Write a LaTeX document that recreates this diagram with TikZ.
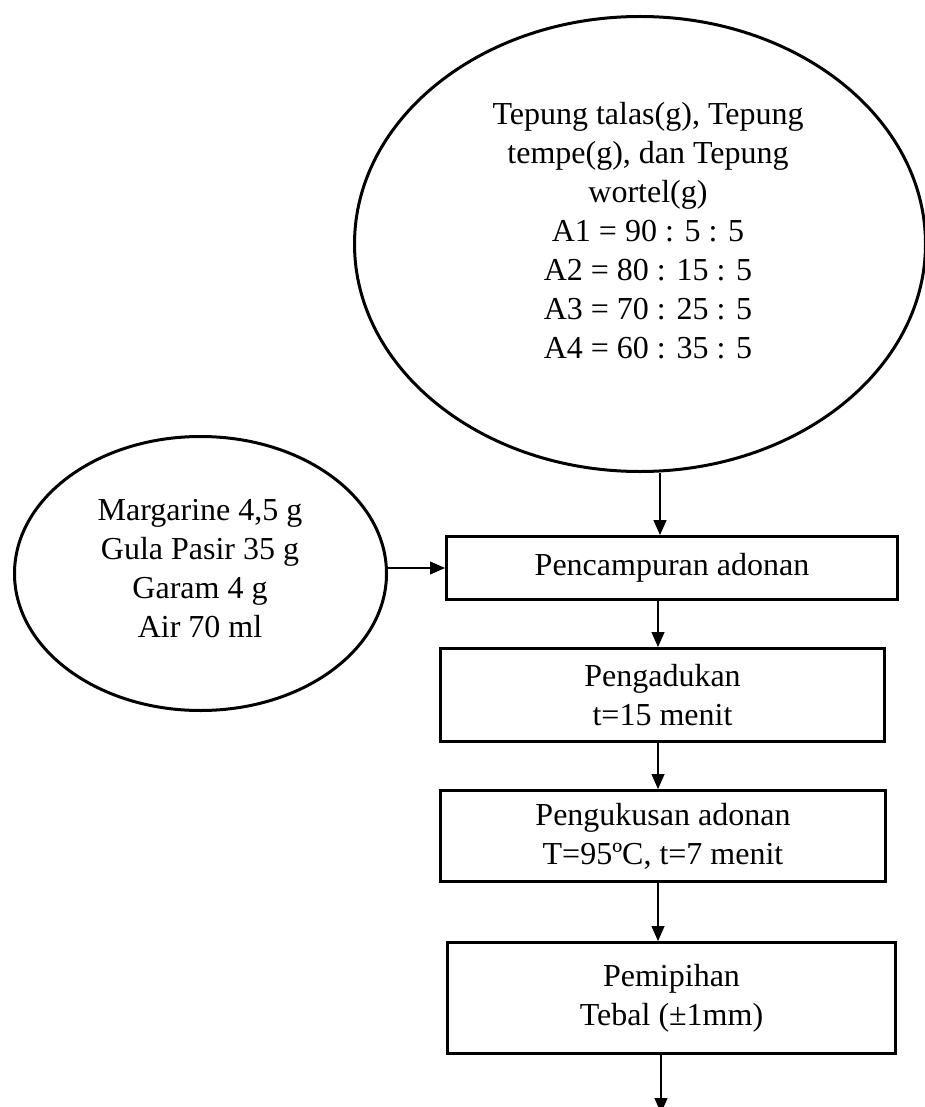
\documentclass[tikz,border=0pt]{standalone}
\usepackage{fontspec}
\setmainfont{Liberation Serif}
\usetikzlibrary{shapes.geometric,arrows.meta}
\begin{document}
\begin{tikzpicture}[x=1pt,y=-1pt,
  txt/.style={font=\fontsize{32}{39}\selectfont, align=center, inner sep=0pt},
  ell/.style={draw, ellipse, line width=3pt, inner sep=0pt},
  stepbox/.style={draw, rectangle, line width=3pt, inner sep=0pt, font=\fontsize{32}{39}\selectfont, align=center},
  arr/.style={line width=1.2pt, -{Triangle[length=15pt,width=13pt]}}]
\useasboundingbox (0,0) rectangle (924,1107);
% ellipses
\node[ell, minimum width=571pt, minimum height=455pt] (ing) at (640,244) {};
\node[txt] (ingtxt) at (648,231) {Tepung talas(g), Tepung\\tempe(g), dan Tepung\\wortel(g)\\A1 = 90 : 5 : 5\\A2 = 80 : 15 : 5\\A3 = 70 : 25 : 5\\A4 = 60 : 35 : 5};
\node[ell, minimum width=372pt, minimum height=274pt] (add) at (200.5,573.5) {};
\node[txt] (addtxt) at (200,569) {Margarine 4,5 g\\Gula Pasir 35 g\\Garam 4 g\\Air 70 ml};
% boxes
\node[stepbox, minimum width=451pt, minimum height=63pt] (b1) at (672,568) {Pencampuran adonan};
\node[stepbox, minimum width=444pt, minimum height=93pt] (b2) at (662.5,695) {Pengadukan\\t=15 menit};
\node[stepbox, minimum width=445pt, minimum height=91pt] (b3) at (663,836) {Pengukusan adonan\\T=95ºC, t=7 menit};
\node[stepbox, minimum width=448pt, minimum height=111pt] (b4) at (671.5,998) {Pemipihan\\Tebal (±1mm)};
% arrow guides
\coordinate (xa) at (660,0);
\coordinate (xb) at (658,0);
\coordinate (xc) at (661,0);
\coordinate (fin) at (661,1113);
% connectors
\draw[arr] (ing.south -| xa) -- (b1.north -| xa);
\draw[arr] (add.east |- b1.west) -- (b1.west);
\draw[arr] (b1.south -| xb) -- (b2.north -| xb);
\draw[arr] (b2.south -| xb) -- (b3.north -| xb);
\draw[arr] (b3.south -| xb) -- (b4.north -| xb);
\draw[arr] (b4.south -| xc) -- (fin);
\end{tikzpicture}
\end{document}
